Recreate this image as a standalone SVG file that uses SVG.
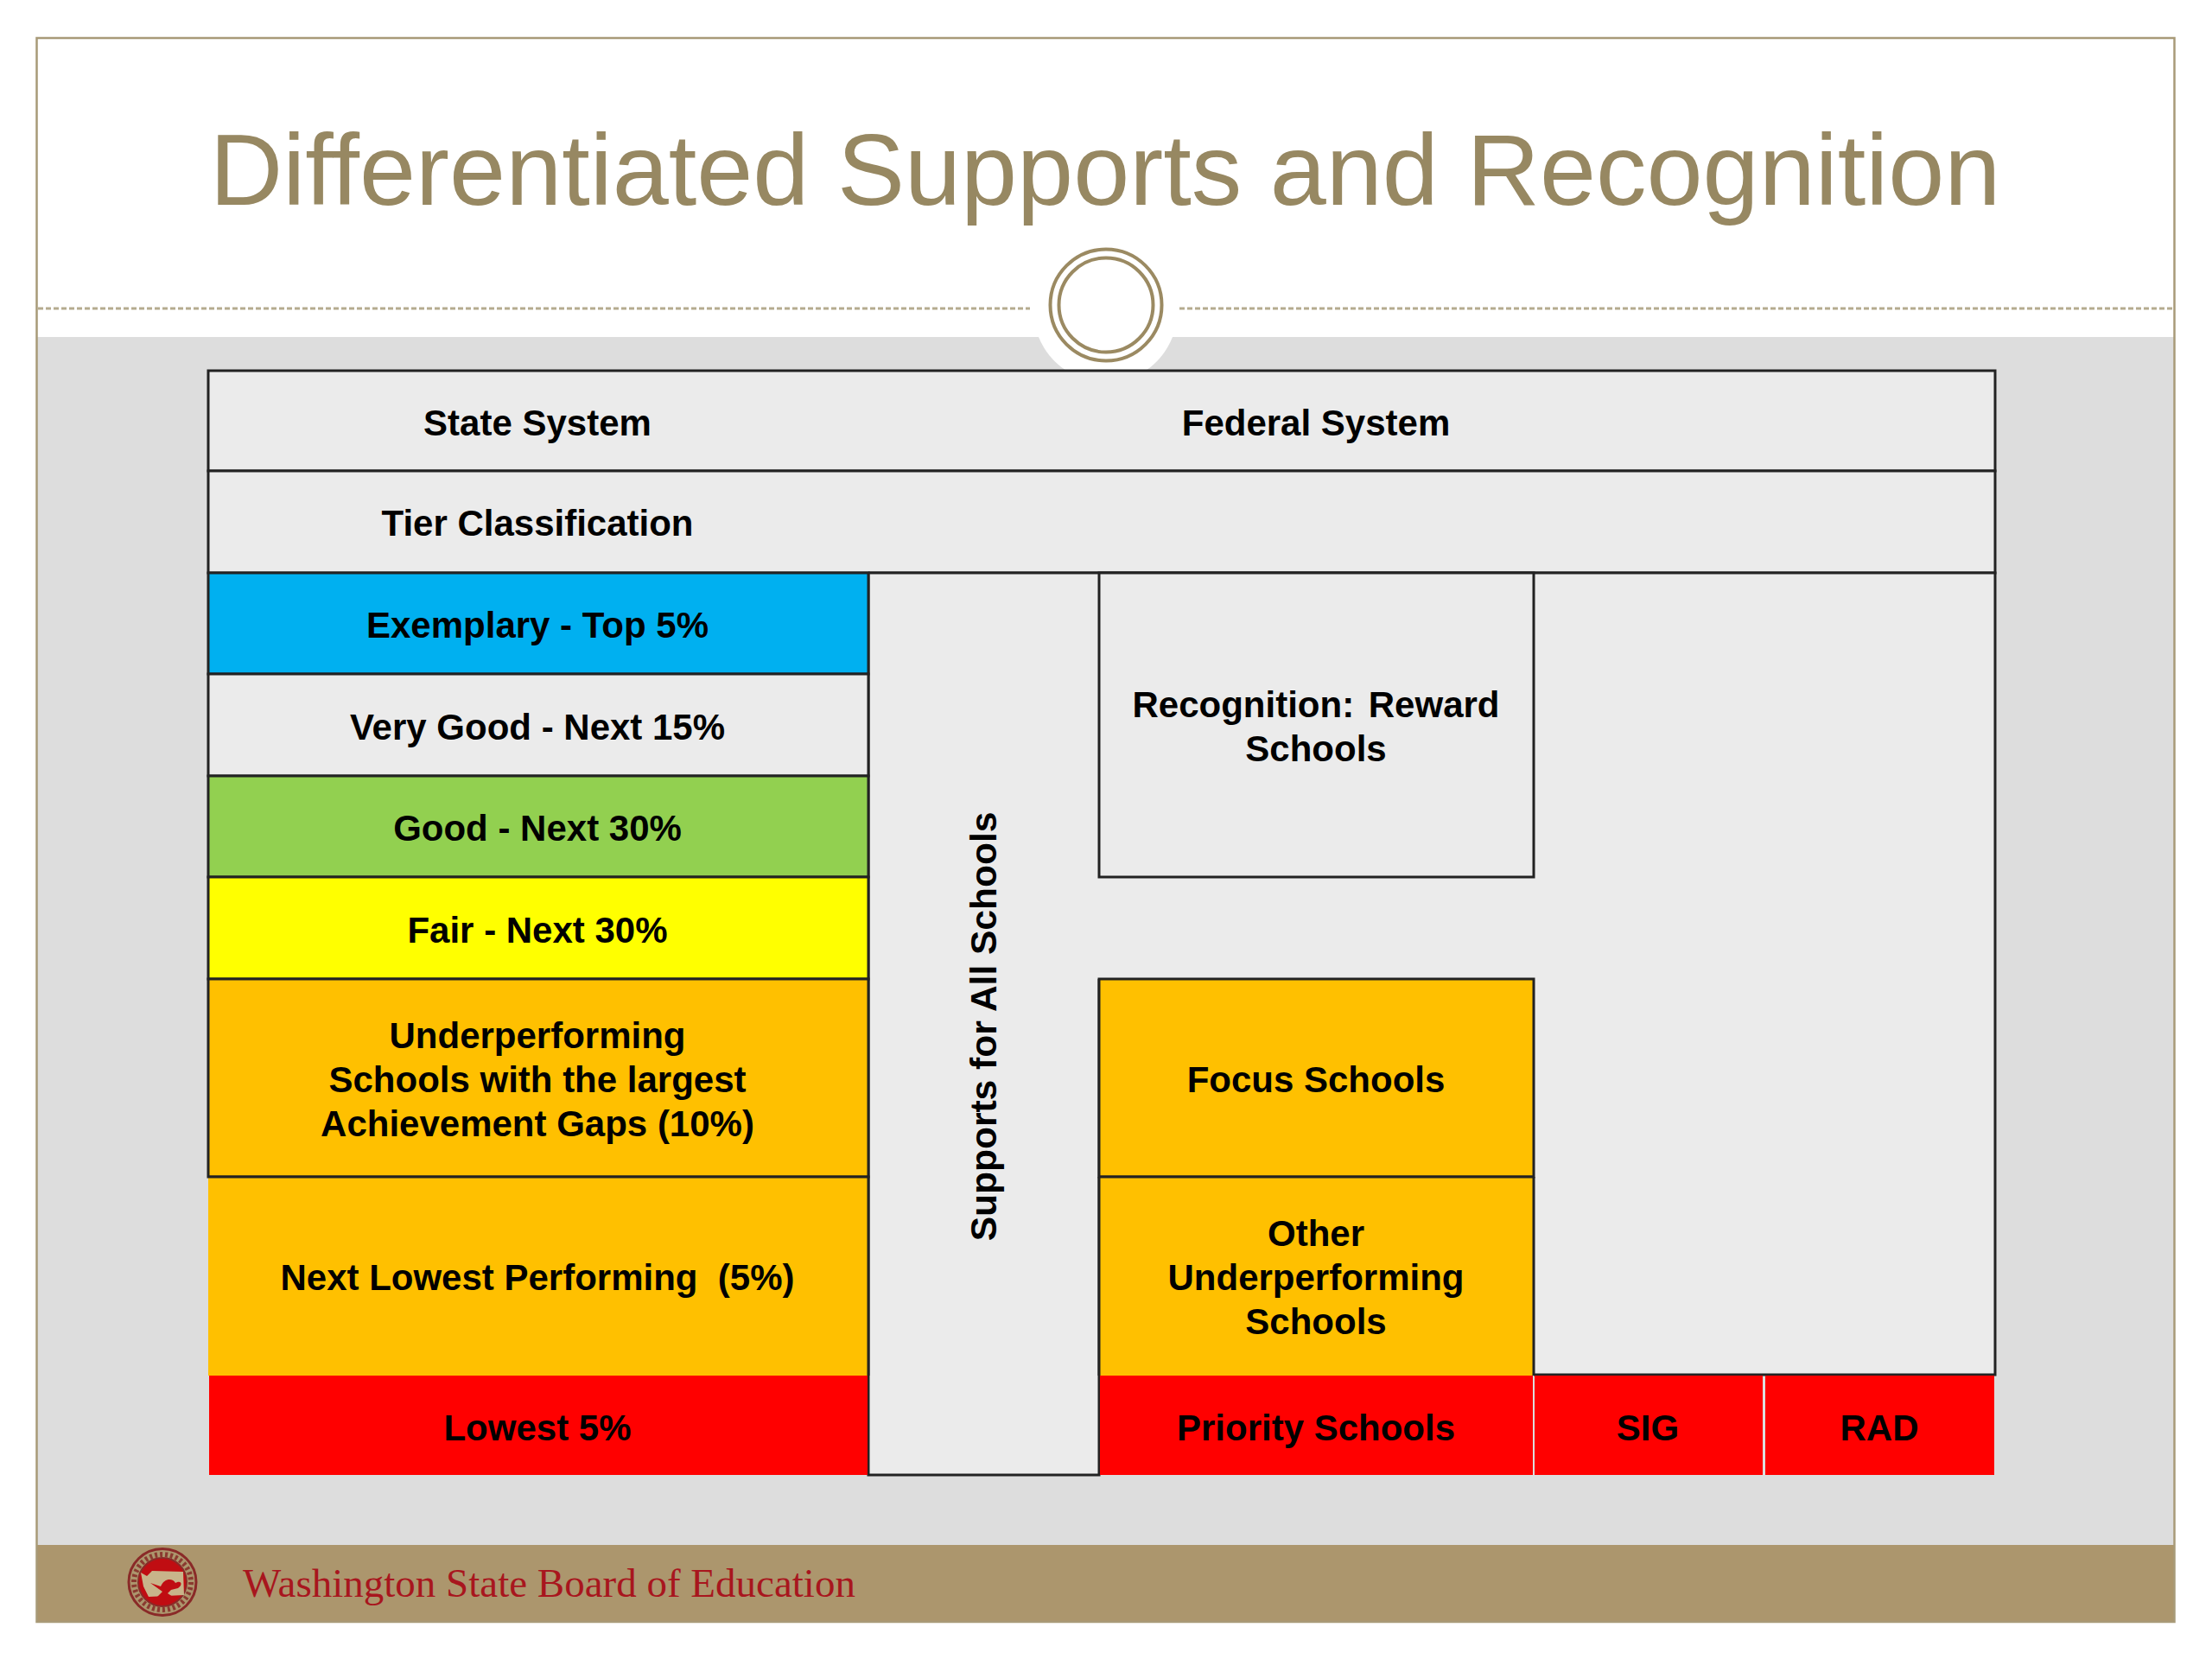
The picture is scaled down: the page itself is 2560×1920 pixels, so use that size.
<svg xmlns="http://www.w3.org/2000/svg" width="2560" height="1920" viewBox="0 0 2560 1920">
<style>
text{font-family:"Liberation Sans",Arial,sans-serif}
.l{font-weight:bold;font-size:42px;fill:#000;text-anchor:middle;white-space:pre}
.c{stroke:#222;stroke-width:3}
.g{fill:#ebebeb}
.ln{stroke:#222;stroke-width:3;fill:none}
</style>
<rect width="2560" height="1920" fill="#fff"/>
<g id="slide">
<rect x="42" y="390" width="2474" height="1398" fill="#dddddd"/>
<rect x="42" y="1788" width="2474" height="89" fill="#ac966d"/>
<rect x="42.500" y="44" width="2474" height="1833" fill="none" stroke="#a89a78" stroke-width="2.500"/>
<line x1="44" y1="357" x2="1192" y2="357" stroke="#b5ab8f" stroke-width="3" stroke-dasharray="6 3"/>
<line x1="1365" y1="357" x2="2514" y2="357" stroke="#b5ab8f" stroke-width="3" stroke-dasharray="6 3"/>
<path d="M1202 390A86 86 0 0 0 1234 429H1326A86 86 0 0 0 1357 390Z" fill="#fff"/>
<circle cx="1280" cy="353" r="64.500" fill="#fff" stroke="#9b8a62" stroke-width="4"/>
<circle cx="1280" cy="353" r="54.500" fill="#fff" stroke="#9b8a62" stroke-width="4"/>
<text x="1279" y="237" font-size="117" text-anchor="middle" fill="#978862" id="title">Differentiated Supports and Recognition</text>
</g>
<g id="header-row"><rect class="c g" x="241" y="429" width="2068" height="116"/><text class="l" x="622" y="504">State System</text><text class="l" x="1523" y="504">Federal System</text></g>
<g id="tier-row"><rect class="c g" x="241" y="545" width="2068" height="118"/><text class="l" x="622" y="620">Tier Classification</text></g>
<g id="right-blank"><rect class="g" x="1005" y="663" width="1304" height="928"/><path class="ln" d="M1775 1591H2309V663H1005"/></g>
<g id="supports"><rect class="g" x="1005" y="1015" width="267" height="692"/><path class="ln" d="M1005 663V1707H1272V1133"/><text class="l" style="font-size:42.500px" transform="translate(1153 1188) rotate(-90)">Supports for All Schools</text></g>
<g id="exemplary"><rect class="c" x="241" y="663" width="764" height="117" fill="#00b0f0"/><text class="l" x="622" y="738">Exemplary - Top 5%</text></g>
<g id="very-good"><rect class="c g" x="241" y="780" width="764" height="118"/><text class="l" x="622" y="856">Very Good - Next 15%</text></g>
<g id="good"><rect class="c" x="241" y="898" width="764" height="117" fill="#92d050"/><text class="l" x="622" y="973">Good - Next 30%</text></g>
<g id="fair"><rect class="c" x="241" y="1015" width="764" height="118" fill="#ffff00"/><text class="l" x="622" y="1091">Fair - Next 30%</text></g>
<g id="underperforming"><rect class="c" x="241" y="1133" width="764" height="229" fill="#ffc000"/><text class="l" x="622" y="1213">Underperforming</text><text class="l" x="622" y="1264">Schools with the largest</text><text class="l" x="622" y="1315">Achievement Gaps (10%)</text></g>
<g id="next-lowest"><rect x="241" y="1362" width="764" height="230" fill="#ffc000"/><path class="ln" d="M241 1362H1005V1592"/><text class="l" x="622" y="1493">Next Lowest Performing  (5%)</text></g>
<g id="lowest"><rect x="242" y="1592" width="762" height="115" fill="#ff0000"/><text class="l" x="622" y="1667">Lowest 5%</text></g>
<g id="reward"><rect class="c g" x="1272" y="663" width="503" height="352"/><text class="l" word-spacing="5" x="1523" y="830">Recognition: Reward</text><text class="l" x="1523" y="881">Schools</text></g>
<g id="focus"><rect class="c" x="1272" y="1133" width="503" height="229" fill="#ffc000"/><text class="l" x="1523" y="1264">Focus Schools</text></g>
<g id="other"><rect x="1272" y="1362" width="503" height="230" fill="#ffc000"/><path class="ln" d="M1272 1362H1775M1272 1362V1592M1775 1362V1592"/><text class="l" x="1523" y="1442">Other</text><text class="l" x="1523" y="1493">Underperforming</text><text class="l" x="1523" y="1544">Schools</text></g>
<g id="priority"><rect x="1273" y="1592" width="501" height="115" fill="#ff0000"/><text class="l" x="1523" y="1667">Priority Schools</text></g>
<g id="sig"><rect x="1776" y="1592" width="264" height="115" fill="#ff0000"/><text class="l" x="1907" y="1667">SIG</text></g>
<g id="rad"><rect x="2043" y="1592" width="265" height="115" fill="#ff0000"/><text class="l" x="2175" y="1667">RAD</text></g>
<g id="footer">
<ellipse cx="188" cy="1831" rx="39" ry="38.500" fill="#ac966d" stroke="#8a2a28" stroke-width="3"/>
<ellipse cx="188" cy="1831" rx="33" ry="32" fill="none" stroke="#8a3a30" stroke-width="6" stroke-dasharray="3 3"/>
<circle cx="188" cy="1831" r="28" fill="#c00d12" stroke="#8a2a28" stroke-width="2"/>
<path d="M163 1820L170 1824L176 1818L212 1819L213 1846L172 1848L166 1836Z" fill="#c8b48a"/>
<path d="M174 1832L186 1836C190 1826 200 1826 203 1832C210 1828 212 1834 206 1838L198 1840L194 1844L200 1848H182L188 1842Z" fill="#c00d12"/>
<text x="281" y="1848" font-size="47" fill="#a8161e" style="font-family:'Liberation Serif','DejaVu Serif',serif">Washington State Board of Education</text>
</g>
</svg>
